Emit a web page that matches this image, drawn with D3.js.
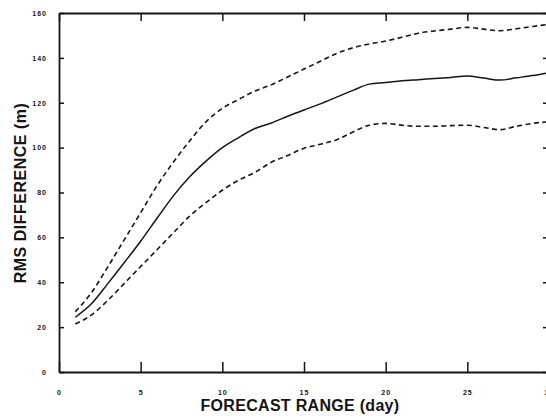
<!DOCTYPE html>
<html><head><meta charset="utf-8">
<script src="https://cdn.jsdelivr.net/npm/d3@7"></script>
<style>body{margin:0;background:#fff}svg{display:block}</style>
</head><body>
<script>
const days = [1,2,3,4,5,6,7,8,9,10,11,12,13,14,15,16,17,18,19,20,21,22,23,24,25,26,27,28,29,30];
const rmsMean = [24.4,30.5,39.5,48.8,58.3,68.5,78.5,87,94,100,104.5,108.5,111,114,116.8,119.5,122.5,125.5,128.3,129,129.8,130.3,130.8,131.3,131.9,131,130.1,131.1,132.1,133.4];
const rmsUpper = [26.9,35.5,47,59,71,83,93.5,103,111.5,117.5,121.5,125.2,128,131.5,135,138.5,142,144.5,146.2,147.5,149.2,151,152,152.8,153.6,152.8,152.1,153,154,155];
const rmsLower = [21.4,25.5,32,39.5,47,54.5,62,69.5,75.5,81,85.5,89,93.5,96.5,99.7,101.5,103.5,107,110,110.8,110,109.5,109.5,109.8,110,109,108,109.5,110.8,111.5];
const xTicks = [0,5,10,15,20,25,30];
const yTicks = [0,20,40,60,80,100,120,140,160];
const xTitle = "FORECAST RANGE (day)";
const yTitle = "RMS DIFFERENCE (m)";

const W = 546, H = 418;
const m = {left: 59, top: 13, right: 549, bottom: 372};
const svg = d3.select("body").append("svg").attr("width", W).attr("height", H);
const x = d3.scaleLinear().domain([0, 30]).range([m.left, m.right]);
const y = d3.scaleLinear().domain([0, 160]).range([m.bottom, m.top]);
const ink = "#151515";

// Axes
const tickFont = g => g.selectAll("text").attr("font-family", "Liberation Sans, Arial, sans-serif")
  .attr("font-size", 7).attr("font-weight", "bold").attr("letter-spacing", 1).attr("fill", ink);

const gB = svg.append("g").attr("transform", `translate(0,${m.bottom})`)
  .call(d3.axisBottom(x).tickValues(xTicks).tickSize(-10).tickPadding(18).tickSizeOuter(0));
const gT = svg.append("g").attr("transform", `translate(0,${m.top})`)
  .call(d3.axisTop(x).tickValues(xTicks).tickSize(-8).tickFormat("").tickSizeOuter(0));
const gL = svg.append("g").attr("transform", `translate(${m.left},0)`)
  .call(d3.axisLeft(y).tickValues(yTicks).tickSize(-5).tickPadding(12).tickSizeOuter(0));
const gR = svg.append("g").attr("transform", `translate(${m.right},0)`)
  .call(d3.axisRight(y).tickValues(yTicks).tickSize(-6).tickFormat("").tickSizeOuter(0));
[gB, gT, gL, gR].forEach(g => {
  g.select(".domain").attr("stroke", ink).attr("stroke-width", 1.8);
  g.selectAll(".tick line").attr("stroke", ink).attr("stroke-width", 1.5);
  tickFont(g);
});
gL.selectAll("text").attr("dy", "0.32em");

// Lines
const line = d3.line().x((d, i) => x(days[i])).y(d => y(d)).curve(d3.curveMonotoneX);
const plot = svg.append("g");
plot.append("path").datum(rmsUpper).attr("d", line).attr("fill", "none")
  .attr("stroke", ink).attr("stroke-width", 1.6).attr("stroke-dasharray", "5,3.5");
plot.append("path").datum(rmsLower).attr("d", line).attr("fill", "none")
  .attr("stroke", ink).attr("stroke-width", 1.6).attr("stroke-dasharray", "5,3.5");
plot.append("path").datum(rmsMean).attr("d", line).attr("fill", "none")
  .attr("stroke", ink).attr("stroke-width", 1.5);

// Titles
svg.append("text").attr("x", 300).attr("y", 411).attr("text-anchor", "middle")
  .attr("font-family", "Liberation Sans, Arial, sans-serif").attr("font-weight", "bold")
  .attr("font-size", 16).attr("letter-spacing", 0.3).attr("fill", ink).text(xTitle);
svg.append("text").attr("transform", "translate(26,193) rotate(-90)").attr("text-anchor", "middle")
  .attr("font-family", "Liberation Sans, Arial, sans-serif").attr("font-weight", "bold")
  .attr("font-size", 16).attr("letter-spacing", 0.5).attr("fill", ink).text(yTitle);
</script>
</body></html>
